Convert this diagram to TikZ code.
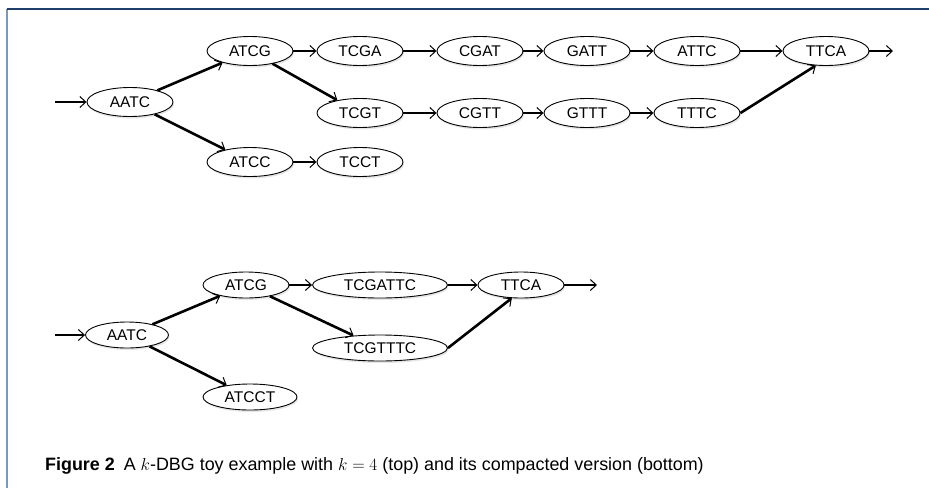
\documentclass[tikz,border=0pt]{standalone}
\usepackage{fontspec}
\setmainfont{Liberation Sans}
\usetikzlibrary{shapes.geometric}
\usetikzlibrary{arrows.meta}
\usetikzlibrary{shadows}

\definecolor{framenavy}{HTML}{1F3F6A}
\definecolor{framesteel}{HTML}{7A98B8}

\tikzset{
  kmer/.style={ellipse, draw, line width=.9pt, fill=white, inner sep=0pt,
    minimum width=86pt, minimum height=29pt,
    font=\fontsize{15.5}{16}\selectfont,
    drop shadow={opacity=.2, shadow xshift=1pt, shadow yshift=-2pt}},
  link/.style={line width=2.6pt, -{Straight Barb[length=6pt,width=11pt,line width=1pt]}},
}

\begin{document}
\begin{tikzpicture}[x=1pt, y=-1pt]
\useasboundingbox (0,0) rectangle (929,488);
% frame
\draw[framesteel, line width=2pt] (7,9)--(7,488);
\draw[framenavy, line width=1.5pt] (7,9)--(929,9);

% top: k-DBG with k=4
\foreach \n/\x/\y in {AATC/130/102, ATCG/250/51, TCGA/360/51, CGAT/480/51, GATT/587/51,
  ATTC/697/51, TTCA/826/51, TCGT/360/113, CGTT/480/113, GTTT/587/113, TTTC/697/113,
  ATCC/250/162, TCCT/360/162} {
  \node[kmer] (t\n) at (\x,\y) {\n};
}
\coordinate (tin) at (55,102);
\coordinate (tout) at (893,51);
\draw[link] (tin)--(tAATC);
\foreach \a/\b in {AATC/ATCG, AATC/ATCC, ATCG/TCGA, ATCG/TCGT, TCGA/CGAT, CGAT/GATT,
  GATT/ATTC, ATTC/TTCA, TCGT/CGTT, CGTT/GTTT, GTTT/TTTC, ATCC/TCCT} {
  \draw[link] (t\a)--(t\b);
}
\draw[link] (tTTTC.east)--(tTTCA.235);
\draw[link] (tTTCA)--(tout);

% bottom: compacted version
\node[kmer, minimum height=26pt, minimum width=83pt] (bAATC) at (127,335) {AATC};
\node[kmer, minimum height=26pt] (bATCG) at (246,285) {ATCG};
\node[kmer, minimum height=26pt, minimum width=135pt] (bTCGATTC) at (380,285) {TCGATTC};
\node[kmer, minimum height=26pt, minimum width=135pt] (bTCGTTTC) at (380,348) {TCGTTTC};
\node[kmer, minimum height=26pt] (bTTCA) at (521,285) {TTCA};
\node[kmer, minimum height=26pt, minimum width=94pt] (bATCCT) at (250,397) {ATCCT};
\coordinate (bin) at (55,335);
\coordinate (bout) at (597,285);
\draw[link] (bin)--(bAATC);
\foreach \a/\b in {AATC/ATCG, AATC/ATCCT, ATCG/TCGATTC, ATCG/TCGTTTC, TCGATTC/TTCA} {
  \draw[link] (b\a)--(b\b);
}
\draw[link] (bTCGTTTC.east)--(bTTCA.235);
\draw[link] (bTTCA)--(bout);

% caption
\node[anchor=base west, inner sep=0pt, font=\fontsize{17.9}{20}\selectfont] (caption) at (45,470)
  {\textbf{Figure 2}\hspace{0.5em}A $k$-DBG toy example with $k=4$ (top) and its compacted version (bottom)};
\end{tikzpicture}
\end{document}
